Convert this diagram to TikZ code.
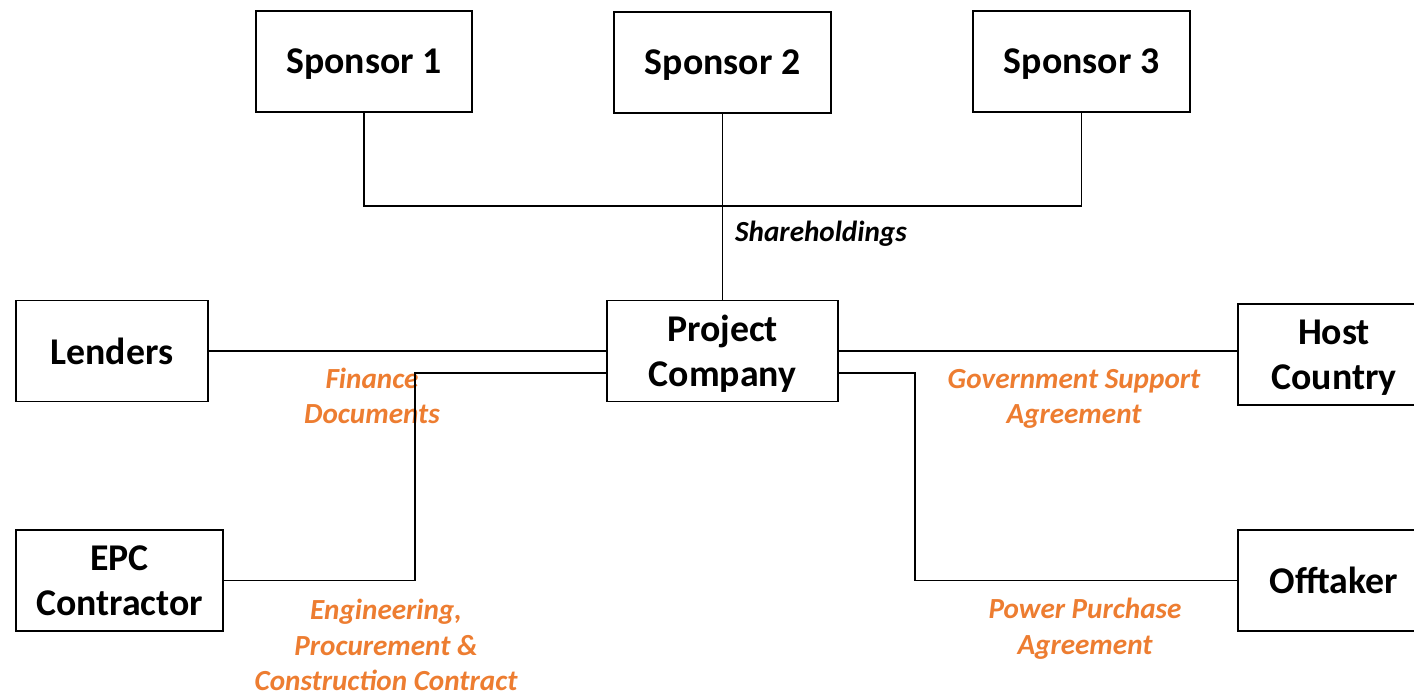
\documentclass[tikz,border=0pt]{standalone}
\usepackage{fontspec}
\setmainfont{Carlito}
\usetikzlibrary{positioning}

\definecolor{dealorange}{HTML}{ED7D31}

\tikzset{
  party/.style={draw, line width=1pt, align=center, inner sep=0pt,
    minimum height=2.02cm, text depth=0pt,
    font=\bfseries\fontsize{21.5}{25.5}\selectfont},
  deal/.style={align=center, text=dealorange, inner sep=0pt,
    font=\bfseries\itshape\fontsize{16.6}{20.2}\selectfont},
  link/.style={line width=0.8pt}
}

\begin{document}
\begin{tikzpicture}[x=0.02cm,y=-0.02cm]
  \useasboundingbox (0,0) rectangle (1414,693);

  % Sponsors along the top
  \node[party, minimum width=4.32cm] (spon1) at (364,61.5) {Sponsor 1};
  \node[party, minimum width=4.34cm] (spon2) at (722.5,62.5) {Sponsor 2};
  \node[party, minimum width=4.34cm] (spon3) at (1081.5,61.5) {Sponsor 3};

  % Project company in the middle
  \node[party, minimum width=4.62cm] (proj) at (722.5,351) {Project\\Company};

  % Counterparties
  \node[party, minimum width=3.84cm] (lend) at (112,351) {Lenders};
  \node[party, minimum width=4.14cm] (epc) at (119.5,580.5) {EPC\\Contractor};
  \node[party, minimum width=3.84cm] (host) at (1334,354.5) {Host\\Country};
  \node[party, minimum width=3.84cm] (offt) at (1334,580.5) {Offtaker};

  % Shareholdings tree
  \coordinate (hub) at (spon2.south |- 0,206);
  \draw[link] (spon1.south) |- (hub) -| (spon3.south);
  \draw[link] (spon2.south) -- (proj.north);
  \node[font=\bfseries\itshape\fontsize{16.6}{20.2}\selectfont] (share) at (821,234) {Shareholdings};

  % Finance documents
  \draw[link] (lend.east) -- (lend.east -| proj.west);
  \node[deal] (fin) at (372,396) {Finance\\Documents};

  % EPC contract
  \coordinate (epcbend) at (415,373);
  \draw[link] (epc.east) -| (epcbend) -- (epcbend -| proj.west);
  \node[deal] (epcdeal) at (386,645) {Engineering,\\Procurement \&\\Construction Contract};

  % Government support
  \draw[link] (proj.east) -- (proj.east -| host.west);
  \node[deal] (gsa) at (1074,399) {Government Support\\Agreement};

  % Power purchase
  \coordinate (ppabend) at (915,373);
  \draw[link] (ppabend -| proj.east) -- (ppabend) |- (offt.west);
  \node[deal] (ppa) at (1085,628.5) {Power Purchase\\Agreement};
\end{tikzpicture}
\end{document}
